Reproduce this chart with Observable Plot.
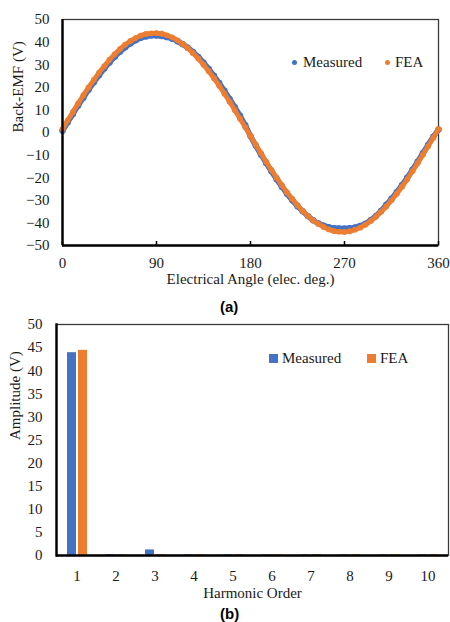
<!DOCTYPE html>
<html><head><meta charset="utf-8">
<script src="https://cdn.jsdelivr.net/npm/d3@7"></script>
<script src="https://cdn.jsdelivr.net/npm/@observablehq/plot@0.6"></script>
<style>
html,body{margin:0;padding:0;background:#fff;}
#wrap{position:relative;width:450px;height:622px;overflow:hidden;font-family:"Liberation Serif","Times New Roman",serif;color:#1a1a1a;}
.abs{position:absolute;white-space:nowrap;}
.leg{font-family:"Liberation Serif","Times New Roman",serif;font-size:15px;line-height:16px;color:#1a1a1a;}
.cap{font-family:"Liberation Sans",Arial,sans-serif;font-weight:bold;font-size:15px;line-height:17px;color:#000;}
svg text{font-family:"Liberation Serif","Times New Roman",serif;}
</style></head><body><div id="wrap"></div>
<script>
// ---- Data (a): back-EMF waveform ----
const angles = [0,5,10,15,20,25,30,35,40,45,50,55,60,65,70,75,80,85,90,95,100,105,110,115,120,125,130,135,140,145,150,155,160,165,170,175,180,185,190,195,200,205,210,215,220,225,230,235,240,245,250,255,260,265,270,275,280,285,290,295,300,305,310,315,320,325,330,335,340,345,350,355,360];
const measuredEMF = [0.8,4.5,8.2,11.9,15.4,18.9,22.2,25.3,28.3,31.0,33.5,35.7,37.7,39.4,40.8,41.9,42.5,42.9,42.9,42.7,42.2,41.5,40.4,39.1,37.5,35.6,33.4,30.9,28.1,25.1,21.9,18.5,14.9,11.2,7.4,3.2,-1.6,-5.8,-9.7,-13.5,-17.2,-20.7,-24.0,-27.1,-30.0,-32.6,-34.9,-37.0,-38.8,-40.2,-41.2,-41.9,-42.3,-42.5,-42.5,-42.4,-42.0,-41.3,-40.3,-38.8,-37.0,-34.7,-32.0,-29.3,-26.4,-23.3,-20.0,-16.5,-12.9,-9.2,-5.5,-1.9,1.3];
const feaEMF = [1.5,5.4,9.1,12.9,16.5,20.0,23.3,26.5,29.4,32.2,34.7,36.9,38.9,40.5,41.8,42.9,43.6,43.9,44.0,43.7,43.0,42.1,40.8,39.2,37.3,35.1,32.7,30.0,27.1,24.0,20.7,17.2,13.6,9.9,6.1,2.3,-1.5,-5.4,-9.1,-12.9,-16.5,-20.0,-23.3,-26.5,-29.4,-32.2,-34.7,-36.9,-38.9,-40.5,-41.8,-42.9,-43.6,-43.9,-44.0,-43.7,-43.0,-42.1,-40.8,-39.2,-37.3,-35.1,-32.7,-30.0,-27.1,-24.0,-20.7,-17.2,-13.6,-9.9,-6.1,-2.3,1.5];
const xTicksA = [0,90,180,270,360];
const yTicksA = [-50,-40,-30,-20,-10,0,10,20,30,40,50];

// ---- Data (b): harmonic amplitudes ----
const harmonics = [1,2,3,4,5,6,7,8,9,10];
const measuredAmp = [43.9,0.15,1.2,0.1,0.1,0.1,0.1,0.1,0.1,0.1];
const feaAmp = [44.4,0.1,0.15,0.15,0.15,0.15,0.2,0.15,0.15,0.15];
const yTicksB = [0,5,10,15,20,25,30,35,40,45,50];
const seriesNames = ["Measured","FEA"];

const BLUE = "#4472C4", ORANGE = "#ED7D31";
const FONT = "Liberation Serif, Times New Roman, serif";
const wrap = document.getElementById("wrap");

const measRowsA = angles.map((a,i)=>({a, v: measuredEMF[i]}));
const feaRowsA = angles.map((a,i)=>({a, v: feaEMF[i]}));

const chartA = Plot.plot({
  width: 450, height: 292,
  marginTop: 19, marginBottom: 47, marginLeft: 62, marginRight: 12,
  style: {fontFamily: FONT, fontSize: "15px", color: "#1a1a1a", background: "transparent", overflow: "visible"},
  x: {domain: [0, 360]},
  y: {domain: [-50, 50]},
  marks: [
    Plot.frame({stroke: "#3a3a3a", strokeWidth: 1.3}),
    Plot.axisY({ticks: yTicksA, tickSize: 0, tickPadding: 13, label: null, fontSize: 15, fontFamily: FONT, fill: "#1a1a1a"}),
    Plot.axisX({ticks: xTicksA, tickSize: -4, tickPadding: 16, label: null, fontSize: 15, fontFamily: FONT, fill: "#1a1a1a", stroke: "#000", strokeWidth: 1.5}),
    Plot.line(measRowsA, {x: "a", y: "v", stroke: BLUE, strokeWidth: 5.5, curve: "catmull-rom"}),
    Plot.dot(measRowsA, {x: "a", y: "v", r: 3.2, fill: BLUE}),
    Plot.line(feaRowsA, {x: "a", y: "v", stroke: ORANGE, strokeWidth: 4.8, curve: "catmull-rom"}),
    Plot.dot(feaRowsA, {x: "a", y: "v", r: 2.9, fill: ORANGE}),
    Plot.ruleX([0], {stroke: "#000", strokeWidth: 2.4}),
    Plot.ruleY([-50], {stroke: "#000", strokeWidth: 2.6}),
    Plot.text(["Electrical Angle (elec. deg.)"], {text: d => d, frameAnchor: "bottom", dy: 38, fontSize: 15, fontFamily: FONT, fill: "#1a1a1a"}),
    Plot.text(["Back-EMF (V)"], {text: d => d, frameAnchor: "left", rotate: -90, dx: -44, fontSize: 15, fontFamily: FONT, fill: "#1a1a1a"})
  ]
});

const measRowsB = harmonics.map((h,i)=>({h, v: measuredAmp[i]}));
const feaRowsB = harmonics.map((h,i)=>({h, v: feaAmp[i]}));

const chartB = Plot.plot({
  width: 450, height: 295,
  marginTop: 14, marginBottom: 50, marginLeft: 56, marginRight: 2,
  style: {fontFamily: FONT, fontSize: "15px", color: "#1a1a1a", background: "transparent", overflow: "visible"},
  x: {type: "band", domain: harmonics, padding: 0},
  y: {domain: [0, 50]},
  marks: [
    Plot.frame({stroke: "#3a3a3a", strokeWidth: 1.3}),
    Plot.axisY({ticks: yTicksB, tickSize: 0, tickPadding: 14, label: null, fontSize: 15, fontFamily: FONT, fill: "#1a1a1a"}),
    Plot.axisX({tickSize: 0, tickPadding: 15, label: null, fontSize: 15, fontFamily: FONT, fill: "#1a1a1a"}),
    Plot.barY(measRowsB, {x: "h", y: "v", fill: BLUE, insetLeft: 10, insetRight: 20}),
    Plot.barY(feaRowsB, {x: "h", y: "v", fill: ORANGE, insetLeft: 21, insetRight: 9}),
    Plot.ruleY([0], {stroke: "#000", strokeWidth: 2.4}),
    Plot.frame({anchor: "left", stroke: "#000", strokeWidth: 2.4}),
    Plot.text(["Harmonic Order"], {text: d => d, frameAnchor: "bottom", dy: 42, fontSize: 15, fontFamily: FONT, fill: "#1a1a1a"}),
    Plot.text(["Amplitude (V)"], {text: d => d, frameAnchor: "left", rotate: -90, dx: -41, fontSize: 15, fontFamily: FONT, fill: "#1a1a1a"})
  ]
});

function place(el, left, top) {
  el.style.position = "absolute"; el.style.left = left + "px"; el.style.top = top + "px";
  wrap.appendChild(el); return el;
}
place(chartA, 0, 0);
place(chartB, 0, 310);

function div(cls, html, left, top, extra) {
  const d = document.createElement("div");
  d.className = "abs " + cls; d.innerHTML = html;
  if (extra) Object.assign(d.style, extra);
  return place(d, left, top);
}
// Legend (a): dots
div("", "", 291.5, 59.5, {width: "5px", height: "5px", borderRadius: "50%", background: BLUE});
div("leg", seriesNames[0], 303, 54);
div("", "", 384.5, 59.5, {width: "5px", height: "5px", borderRadius: "50%", background: ORANGE});
div("leg", seriesNames[1], 395, 54);
// Legend (b): squares
div("", "", 269, 354, {width: "9px", height: "9px", background: BLUE});
div("leg", seriesNames[0], 282, 350);
div("", "", 367, 354, {width: "9px", height: "9px", background: ORANGE});
div("leg", seriesNames[1], 380, 350);
// Captions
div("cap", "(a)", 220, 298);
div("cap", "(b)", 220, 605);
</script></body></html>
